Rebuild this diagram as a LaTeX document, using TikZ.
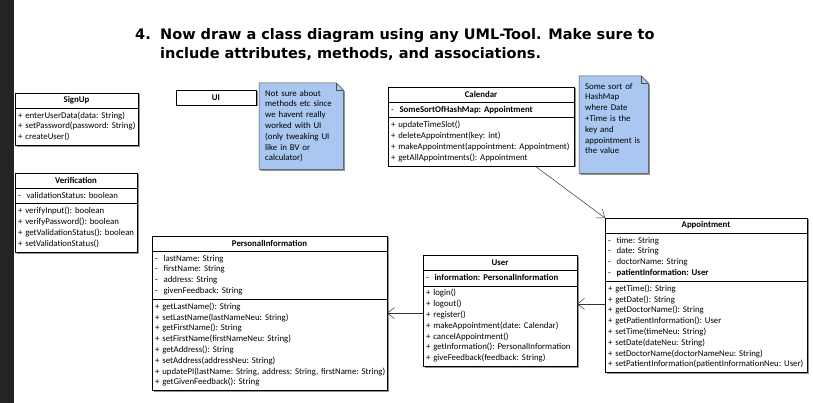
\documentclass[tikz,border=0pt]{standalone}
\usepackage{fontspec}
\setmainfont{Carlito}
\newfontfamily\titlefont{DejaVu Sans}
\usepackage{tikz}
\usetikzlibrary{arrows.meta,positioning,backgrounds,shadows}
\definecolor{notecol}{RGB}{169,199,240}
\definecolor{stripcol}{RGB}{36,36,36}
\newcommand{\umlfont}{\fontsize{8.8}{10.8}\selectfont\frenchspacing}

\begin{document}
\begin{tikzpicture}[x=1pt, y=-1pt, >={Straight Barb[length=7pt,width=11pt]},
 boxshadow/.style={drop shadow={shadow xshift=1.5pt, shadow yshift=-1.5pt, fill=black!60, opacity=.7}},
 head/.style={draw, fill=white, line width=0.6pt, boxshadow, font=\umlfont\bfseries,
   minimum height=15pt, inner sep=0pt, outer sep=0pt, anchor=north west},
 part/.style={draw, fill=white, line width=0.6pt, boxshadow, font=\umlfont, align=left,
   inner xsep=3pt, inner ysep=2.5pt, outer sep=0pt},
 notetext/.style={font=\umlfont, anchor=north west, align=left, inner xsep=6pt, inner ysep=7pt, text height=6pt},
 notebg/.style={fill=notecol, draw=black!70, line width=0.5pt, boxshadow},
 assoc/.style={->, line width=0.5pt, draw=black!80}]

\node[anchor=base west, inner sep=0pt, font=\titlefont\bfseries\fontsize{14.5}{19}\selectfont] (title) at (135,40)
 {\begin{tabular}[t]{@{}p{25pt}@{}l@{}} 4. & Now draw a class diagram using any UML-Tool. Make sure to \\ & include attributes, methods, and associations. \end{tabular}};

\node[head, minimum width=123pt] (signup) at (15,93) {SignUp};
\node[part, text width=117pt, below=0pt of signup] (signup-m) {\begin{tabular}{@{}l@{}} + enterUserData(data: String) \\ + setPassword(password: String) \\ + createUser() \end{tabular}};

\node[head, minimum width=80pt] (ui) at (176,90) {UI};

\node[notetext, text width=72pt, text depth=66pt] (note1) at (259,83) {Not sure about \\ methods etc since \\ we havent really \\ worked with UI \\ (only tweaking UI \\ like in BV or \\ calculator)};

\node[head, minimum width=186pt] (cal) at (388,87) {Calendar};
\node[part, text width=180pt, below=0pt of cal] (cal-a) {\begin{tabular}{@{}l@{}} - \ \textbf{SomeSortOfHashMap: Appointment} \end{tabular}};
\node[part, text width=180pt, below=0pt of cal-a] (cal-m) {\begin{tabular}{@{}l@{}} + updateTimeSlot() \\ + deleteAppointment(key: int) \\ + makeAppointment(appointment: Appointment) \\ + getAllAppointments(): Appointment \end{tabular}};

\node[notetext, text width=57pt, text depth=77pt] (note2) at (579,76) {Some sort of \\ HashMap \\ where Date \\ +Time is the \\ key and \\ appointment is \\ the value};

\node[head, minimum width=122pt] (verif) at (15,173) {Verification};
\node[part, text width=116pt, below=0pt of verif] (verif-a) {\begin{tabular}{@{}l@{}} - \ validationStatus: boolean \end{tabular}};
\node[part, text width=116pt, below=0pt of verif-a] (verif-m) {\begin{tabular}{@{}l@{}} + verifyInput(): boolean \\ + verifyPassword(): boolean \\ + getValidationStatus(): boolean \\ + setValidationStatus() \end{tabular}};

\node[head, minimum width=235pt] (pinfo) at (152,236) {PersonalInformation};
\node[part, text width=229pt, below=0pt of pinfo] (pinfo-a) {\begin{tabular}{@{}l@{}} - \ lastName: String \\ - \ firstName: String \\ - \ address: String \\ - \ givenFeedback: String \end{tabular}};
\node[part, text width=229pt, below=0pt of pinfo-a] (pinfo-m) {\begin{tabular}{@{}l@{}} + getLastName(): String \\ + setLastName(lastNameNeu: String) \\ + getFirstName(): String \\ + setFirstName(firstNameNeu: String) \\ + getAddress(): String \\ + setAddress(addressNeu: String) \\ + updatePI(lastName: String, address: String, firstName: String) \\ + getGivenFeedback(): String \end{tabular}};

\node[head, minimum width=154pt] (user) at (423,255) {User};
\node[part, text width=148pt, below=0pt of user] (user-a) {\begin{tabular}{@{}l@{}} - \ \textbf{information: PersonalInformation} \end{tabular}};
\node[part, text width=148pt, below=0pt of user-a] (user-m) {\begin{tabular}{@{}l@{}} + login() \\ + logout() \\ + register() \\ + makeAppointment(date: Calendar) \\ + cancelAppointment() \\ + getInformation(): PersonalInformation \\ + giveFeedback(feedback: String) \end{tabular}};

\node[head, minimum width=202pt] (appt) at (605,218) {Appointment};
\node[part, text width=196pt, below=0pt of appt] (appt-a) {\begin{tabular}{@{}l@{}} - \ time: String \\ - \ date: String \\ - \ doctorName: String \\ - \ \textbf{patientInformation: User} \end{tabular}};
\node[part, text width=196pt, below=0pt of appt-a] (appt-m) {\begin{tabular}{@{}l@{}} + getTime(): String \\ + getDate(): String \\ + getDoctorName(): String \\ + getPatientInformation(): User \\ + setTime(timeNeu: String) \\ + setDate(dateNeu: String) \\ + setDoctorName(doctorNameNeu: String) \\ + setPatientInformation(patientInformationNeu: User) \end{tabular}};

\begin{scope}[on background layer]
 \fill[white] (0,0) rectangle (813,403);
 \fill[stripcol] (0,0) rectangle (14,403);
 \path[notebg] (note1.north west) -- ([xshift=-7pt]note1.north east) -- ([yshift=-7pt]note1.north east) -- (note1.south east) -- (note1.south west) -- cycle;
 \draw[black!70, line width=0.5pt] ([xshift=-7pt]note1.north east) -- ([xshift=-7pt,yshift=-7pt]note1.north east) -- ([yshift=-7pt]note1.north east);
 \path[notebg] (note2.north west) -- ([xshift=-7pt]note2.north east) -- ([yshift=-7pt]note2.north east) -- (note2.south east) -- (note2.south west) -- cycle;
 \draw[black!70, line width=0.5pt] ([xshift=-7pt]note2.north east) -- ([xshift=-7pt,yshift=-7pt]note2.north east) -- ([yshift=-7pt]note2.north east);
\end{scope}

\coordinate (u-out) at ([yshift=13pt]user-m.west);
\coordinate (a-out) at ([yshift=23pt]appt-m.west);
\draw[assoc] ([xshift=54pt]cal-m.south) -- (appt.north west);
\draw[assoc] (u-out) -- (u-out -| pinfo-m.east);
\draw[assoc] (a-out) -- (a-out -| user-m.east);

\useasboundingbox (0,0) rectangle (813,403);
\end{tikzpicture}
\end{document}
